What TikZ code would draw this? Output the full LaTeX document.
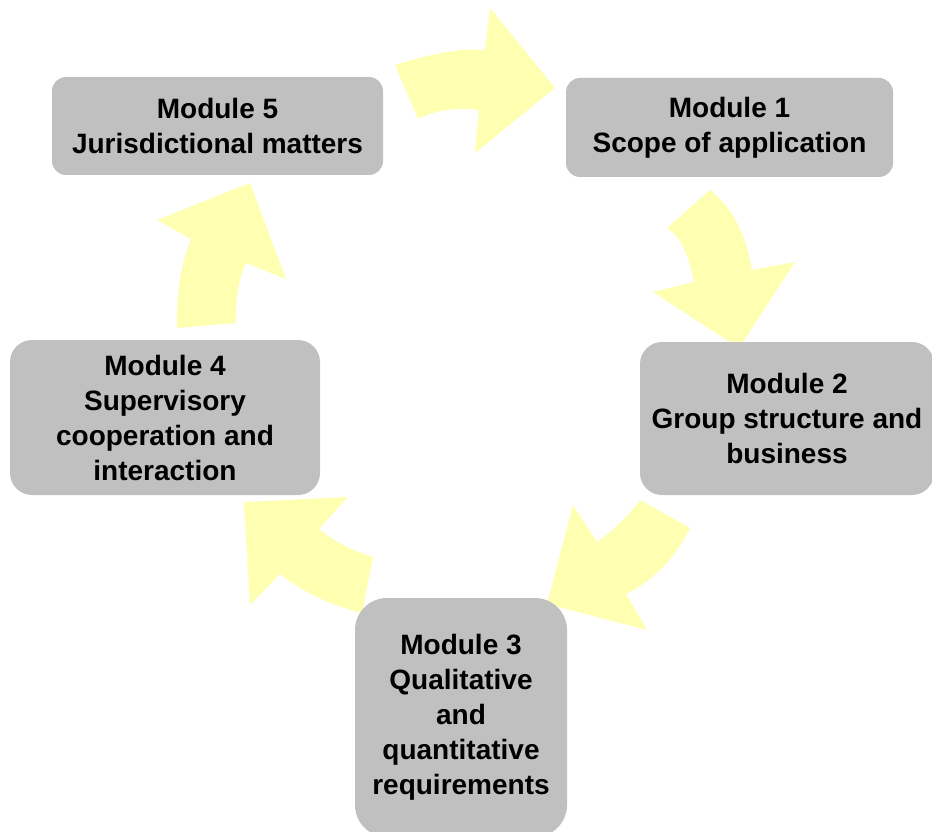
\documentclass[tikz,border=0pt]{standalone}
\usepackage{fontspec}
\setmainfont{Liberation Sans}
\definecolor{boxgray}{RGB}{192,192,192}
\definecolor{arrowyellow}{RGB}{255,255,178}
\begin{document}
\begin{tikzpicture}[x=1pt,y=-1pt,
  modbox/.style={fill=boxgray, draw=none, inner sep=0pt, align=center,
    font=\fontsize{28}{35}\selectfont\bfseries},
  cyclearrow/.style={fill=arrowyellow, draw=none}]
\useasboundingbox (0,0) rectangle (932,832);
\clip (0,0) rectangle (932,832);
% arrows
\fill[cyclearrow] (395,65) .. controls (434.3,52.7) and (464.3,47.7) .. (485,50)
  -- (490,8) -- (555,88) -- (475,153) -- (479,110)
  .. controls (456.7,107) and (436.3,110) .. (418,119) -- cycle;
\fill[cyclearrow] (710,190) .. controls (732,207.3) and (746,234) .. (752,270)
  -- (795,262) -- (739,348) -- (653,292) -- (694,282)
  .. controls (688.3,253.3) and (679.3,235.3) .. (667,228) -- cycle;
\fill[cyclearrow] (690,528) .. controls (675.3,558) and (654,580) .. (626,594)
  -- (647,630) -- (547,604) -- (573,505) -- (597,542)
  .. controls (613.3,530.7) and (627.7,516.7) .. (640,500) -- cycle;
\fill[cyclearrow] (362,613) .. controls (329.3,604.7) and (302,591.7) .. (280,574)
  -- (250,605) -- (244,502) -- (348,497) -- (319,529)
  .. controls (333,541) and (351,550.3) .. (373,557) -- cycle;
\fill[cyclearrow] (177,328) .. controls (176.3,293.7) and (181,264) .. (191,239)
  -- (157,220) -- (250,183) -- (286,279) -- (246,263)
  .. controls (238.7,279) and (235.3,299) .. (236,323) -- cycle;
% boxes
\node[modbox, minimum width=331pt, minimum height=98pt, rounded corners=14pt] (m5) at (217.5,126)
  {Module 5\\Jurisdictional matters};
\node[modbox, minimum width=327pt, minimum height=99pt, rounded corners=14pt] (m1) at (729.5,127.5)
  {Module 1\\Scope of application};
\node[modbox, minimum width=294pt, minimum height=153pt, rounded corners=22pt] (m2) at (787,418.5)
  {Module 2\\Group structure and\\business};
\node[modbox, minimum width=310pt, minimum height=155pt, rounded corners=22pt] (m4) at (165,417.5)
  {Module 4\\Supervisory\\cooperation and\\interaction};
\node[modbox, minimum width=212pt, minimum height=239pt, rounded corners=32pt] (m3) at (461,717.5)
  {Module 3\\Qualitative\\and\\quantitative\\requirements};
\end{tikzpicture}
\end{document}
